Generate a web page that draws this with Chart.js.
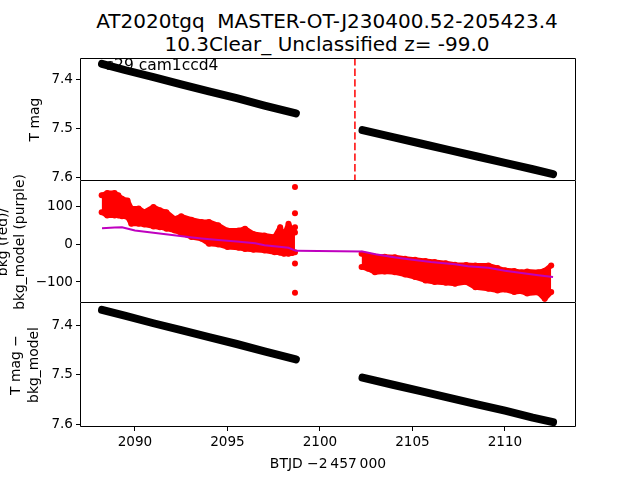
<!DOCTYPE html>
<html>
<head>
<meta charset="utf-8">
<script src="https://cdn.jsdelivr.net/npm/chart.js@4/dist/chart.umd.min.js"></script>
<style>
  body { margin: 0; background: #fff; width: 640px; height: 480px; overflow: hidden; position: relative; font-family: "DejaVu Sans"; }
  #title { position: absolute; left: 0; top: 9.5px; width: 654px; text-align: center; font-size: 20px; line-height: 23px; color: #000; white-space: pre; }
  canvas { position: absolute; left: 0; }
</style>
</head>
<body>
<div id="title">AT2020tgq  MASTER-OT-J230400.52-205423.4
10.3Clear_ Unclassified z= -99.0</div>
<canvas id="c1" width="640" height="123" style="top:58px"></canvas>
<canvas id="c2" width="640" height="145" style="top:171px"></canvas>
<canvas id="c3" width="640" height="177" style="top:303px"></canvas>
<script>
// x range and ticks (BTJD - 2457000)
const xMin = 2087.03, xMax = 2113.84;
const xTicks = [2090, 2095, 2100, 2105, 2110];
const gapLine = 2101.89;

// T mag, panel 1
const magTime1 = [2088.22, 2089.5, 2091, 2092.5, 2094, 2095.5, 2097, 2098.7];
const mag1 = [7.369, 7.382, 7.396, 7.411, 7.425, 7.439, 7.454, 7.470];
const magTime2 = [2102.3, 2104, 2105.5, 2107, 2108.5, 2110, 2111.5, 2112.6];
const mag2 = [7.504, 7.519, 7.532, 7.545, 7.558, 7.571, 7.584, 7.594];

// T mag - bkg_model, panel 3
const corr1 = [7.369, 7.381, 7.396, 7.410, 7.424, 7.438, 7.453, 7.469];
const corr2 = [7.506, 7.521, 7.534, 7.547, 7.560, 7.573, 7.587, 7.596];

// bkg (red) upper / lower edges of the scatter band
const bkgTime1 = [2088.2, 2088.5, 2088.9, 2089.1, 2089.3, 2089.6, 2089.8, 2090.2, 2090.5, 2091.0, 2091.35, 2091.7, 2092.15, 2092.5, 2093.05, 2093.6, 2094.0, 2094.5, 2095.0, 2095.6, 2095.95, 2096.4, 2097.0, 2097.55, 2097.85, 2098.05, 2098.3, 2098.5, 2098.65];
const bkgHigh1 = [131, 137, 137, 131, 122, 117, 96, 96, 86, 100, 91, 86, 68, 75, 66, 60, 60, 51, 37, 37, 42, 28, 24, 20, 46, 22, 55, 37, 46];
const bkgLow1 = [86, 77, 77, 77, 75, 73, 55, 55, 53, 48, 46, 42, 37, 30, 20, 15, 2, 0, -7, -9, -12, -14, -16, -21, -22, -25, -25, -23, -21];
const bkgTime2 = [2102.25, 2102.6, 2102.97, 2103.5, 2104.05, 2104.6, 2105.14, 2105.7, 2106.2, 2106.8, 2107.3, 2107.9, 2108.4, 2109.1, 2109.6, 2110.0, 2110.5, 2110.9, 2111.2, 2111.8, 2112.15, 2112.5];
const bkgHigh2 = [-25, -28, -32, -33, -34, -38, -41, -44, -47, -50, -54, -55, -56, -56, -63, -69, -71, -74, -72, -74, -70, -56];
const bkgLow2 = [-60, -65, -74, -72, -74, -80, -87, -96, -100, -102, -105, -100, -114, -118, -123, -120, -127, -125, -131, -128, -145, -127];
const outTime = [2098.65, 2098.65, 2098.65, 2098.65, 2098.65];
const outBkg = [153, 83, 32, -51, -129];

// bkg_model (purple)
const modelTime = [2088.22, 2088.9, 2089.3, 2090.0, 2091.0, 2092.0, 2093.0, 2093.6, 2094.5, 2095.5, 2096.5, 2097.0, 2097.8, 2098.3, 2098.7, 2102.3, 2103.0, 2104.0, 2105.0, 2106.0, 2107.3, 2108.0, 2109.1, 2110.0, 2110.9, 2111.8, 2112.6];
const model = [43, 45, 46, 37, 31, 25, 19, 16, 12, 8, 3, -2, -6, -9, -17, -19, -26, -34, -41, -47, -53, -58, -62, -70, -76, -82, -87];

function zip(xs, ys) {
    return xs.map((x, i) => ({x: x, y: ys[i]}));
}

const tickFont = {family: 'DejaVu Sans', size: 13.6};
const labelFont = {family: 'DejaVu Sans', size: 13.9, lineHeight: 1.25};

function frame(skipTop) {
    return {
        id: 'frame',
        afterDraw(chart) {
            const a = chart.chartArea;
            const c = chart.ctx;
            const l = Math.round(a.left) + 0.5, r = Math.round(a.right) - 0.5;
            const t = Math.round(a.top) + 0.5, b = Math.round(a.bottom) - 0.5;
            c.save();
            c.strokeStyle = '#000';
            c.lineWidth = 1;
            c.beginPath();
            if (skipTop) {
                c.moveTo(l, t - 0.5); c.lineTo(l, b); c.lineTo(r, b); c.lineTo(r, t - 0.5);
            } else {
                c.rect(l, t, r - l, b - t);
            }
            c.stroke();
            c.restore();
        }
    };
}

// rotated y-axis label, one x position per line
function yTitle(lines, xs) {
    return {
        id: 'yTitle',
        afterDraw(chart) {
            const a = chart.chartArea;
            const c = chart.ctx;
            c.save();
            c.fillStyle = '#000';
            c.font = '13.9px "DejaVu Sans"';
            c.textAlign = 'center';
            c.textBaseline = 'middle';
            lines.forEach((txt, i) => {
                c.save();
                c.translate(xs[i], (a.top + a.bottom) / 2);
                c.rotate(-Math.PI / 2);
                c.fillText(txt, 0, 0);
                c.restore();
            });
            c.restore();
        }
    };
}

function yScale(min, max, reverse, ticks, fmt) {
    return {
        type: 'linear', position: 'left', min: min, max: max, reverse: reverse,
        afterBuildTicks: s => { s.ticks = ticks.map(v => ({value: v})); },
        afterFit: s => { s.width = 80; s.paddingTop = 0; s.paddingBottom = 0; },
        grid: {drawOnChartArea: false, drawTicks: true, tickLength: 4, color: '#000'},
        border: {display: false},
        ticks: {color: '#000', font: tickFont, padding: 3, callback: fmt}
    };
}

function xScale(show) {
    return {
        type: 'linear', min: xMin, max: xMax, display: show,
        afterBuildTicks: s => { s.ticks = xTicks.map(v => ({value: v})); },
        afterFit: s => { s.height = show ? 53 : 0; s.paddingLeft = 0; s.paddingRight = 0; },
        grid: {drawOnChartArea: false, drawTicks: true, tickLength: 4, color: '#000'},
        border: {display: false},
        ticks: {color: '#000', font: tickFont, padding: 3, callback: v => String(v)},
        title: {display: true, text: 'BTJD \u22122\u2009457\u2009000', color: '#000', font: labelFont, padding: {top: 0, bottom: 7}}
    };
}

const baseOptions = (scales, padTop, padBottom) => ({
    responsive: false,
    animation: false,
    layout: {autoPadding: false, padding: {left: 0, right: 64, top: padTop || 0, bottom: padBottom || 0}},
    plugins: {legend: {display: false}, tooltip: {enabled: false}},
    scales: scales
});

const magFmt = v => v.toFixed(1);
const bkgFmt = v => (v < 0 ? '\u2212' + Math.abs(v) : String(v));

function blackLine(data) {
    return {data: data, borderColor: '#000', backgroundColor: '#000', borderWidth: 8,
            borderCapStyle: 'round', borderJoinStyle: 'round',
            pointRadius: 0, tension: 0, order: 1};
}

// panel 1: T mag
const labelPlugin = {
    id: 'sectorLabel',
    beforeDatasetsDraw(chart) {
        const c = chart.ctx;
        c.save();
        c.fillStyle = '#000';
        c.font = '15.5px "DejaVu Sans"';
        c.textBaseline = 'alphabetic';
        c.fillText('s29 cam1ccd4', 106, 12);
        c.restore();
    }
};

new Chart(document.getElementById('c1'), {
    type: 'line',
    data: {datasets: [
        blackLine(zip(magTime1, mag1)),
        blackLine(zip(magTime2, mag2)),
        {data: [{x: gapLine, y: 7.357}, {x: gapLine, y: 7.608}], borderColor: '#ff0000',
         borderWidth: 1.5, borderDash: [7.4, 3.2], pointRadius: 0, order: 0}
    ]},
    options: baseOptions({x: xScale(false), y: yScale(7.357, 7.608, true, [7.4, 7.5, 7.6], magFmt)}),
    plugins: [frame(false), labelPlugin, yTitle(['T mag'], [35])]
});

// panel 2: bkg and bkg_model
function redEdge(data, fill) {
    return {data: data, borderColor: '#ff0000', backgroundColor: '#ff0000', borderWidth: 5,
            borderJoinStyle: 'round', pointRadius: 3, pointBorderWidth: 0,
            tension: 0, fill: fill, order: 2};
}
new Chart(document.getElementById('c2'), {
    type: 'line',
    data: {datasets: [
        redEdge(zip(bkgTime1, bkgHigh1), '+1'),
        redEdge(zip(bkgTime1, bkgLow1), false),
        redEdge(zip(bkgTime2, bkgHigh2), '+1'),
        redEdge(zip(bkgTime2, bkgLow2), false),
        {data: zip(outTime, outBkg), showLine: false, pointRadius: 3, pointBorderWidth: 0,
         backgroundColor: '#ff0000', borderColor: '#ff0000', order: 2},
        {data: zip(modelTime, model), borderColor: '#bf00bf', borderWidth: 2, pointRadius: 0, tension: 0, order: 0}
    ]},
    options: baseOptions({x: xScale(false), y: yScale(-156, 169, false, [-100, 0, 100], bkgFmt)}, 10, 13),
    plugins: [frame(true), yTitle(['bkg (red)/', 'bkg_model (purple)'], [3, 20.5])]
});

// panel 3: T mag - bkg_model
new Chart(document.getElementById('c3'), {
    type: 'line',
    data: {datasets: [
        blackLine(zip(magTime1, corr1)),
        blackLine(zip(magTime2, corr2))
    ]},
    options: baseOptions({x: xScale(true), y: yScale(7.355, 7.606, true, [7.4, 7.5, 7.6], magFmt)}),
    plugins: [frame(true), yTitle(['T mag \u2212', 'bkg_model'], [16.5, 34.5])]
});
</script>
</body>
</html>
